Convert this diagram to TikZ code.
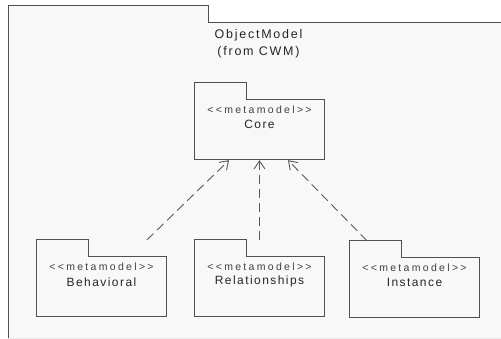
\documentclass[tikz,border=0pt]{standalone}
\usepackage{fontspec}
\setmainfont{Liberation Sans}[Ligatures=TeXOff]
\usetikzlibrary{arrows.meta}

\definecolor{frame}{HTML}{F8F8F8}
\definecolor{edge}{HTML}{505050}

\begin{document}
\begin{tikzpicture}[x=1pt,y=-1pt,
  pkg/.style={minimum width=129pt,minimum height=76pt,inner sep=0pt,draw=none},
  pkgline/.style={draw=edge,fill=frame,line width=0.9pt},
  stereo/.style={text=black!75,font={\fontsize{10.5}{12}\selectfont\addfontfeatures{LetterSpace=22}}},
  pname/.style={text=black!85,font={\fontsize{12}{14}\selectfont\addfontfeatures{LetterSpace=12}}},
  dep/.style={draw=black!65,line width=0.9pt,dash pattern=on 9pt off 5pt,-{Straight Barb[length=8pt,width=11pt]}}]
  \useasboundingbox[fill=white] (0,0) rectangle (501,339);
  % enclosing package
  \fill[frame] (8,339) -- (8,5) -- (208,5) -- (208,22) -- (502,22) -- (502,339) -- cycle;
  \draw[edge,line width=0.9pt] (8,339) -- (8,5) -- (208,5) -- (208,22) -- (502,22);
  \draw[black!8,line width=0.8pt] (8,338) -- (502,338);
  \node[pname,align=center,font={\fontsize{12.5}{17}\selectfont\addfontfeatures{LetterSpace=14}}] (title) at (258.5,43.5) {ObjectModel\\(from CWM)};
  % packages
  \foreach \n/\x/\y/\name in {core/259.5/121/Core, beh/101.5/278/Behavioral, rel/259.5/278/Relationships, inst/414.5/279/Instance} {
    \node[pkg] (\n) at (\x,\y) {};
    \draw[pkgline] (\n.south west) |- (\n.north west) -- ++(52,0) -- ++(0,17) -| (\n.south east) -- cycle;
    \node[stereo] (\n-st) at ([yshift=-27pt]\n.north) {<<metamodel>>};
    \node[pname] (\n-name) at ([yshift=-42pt]\n.north) {\name};
  }
  % dependencies
  \draw[dep] ([xshift=45.5pt]beh.north) -- ([xshift=-30.5pt,yshift=-1pt]core.south);
  \draw[dep] (rel.north) -- ([yshift=-1pt]core.south);
  \draw[dep] ([xshift=-47.5pt]inst.north) -- ([xshift=28.5pt,yshift=-1pt]core.south);
\end{tikzpicture}
\end{document}
